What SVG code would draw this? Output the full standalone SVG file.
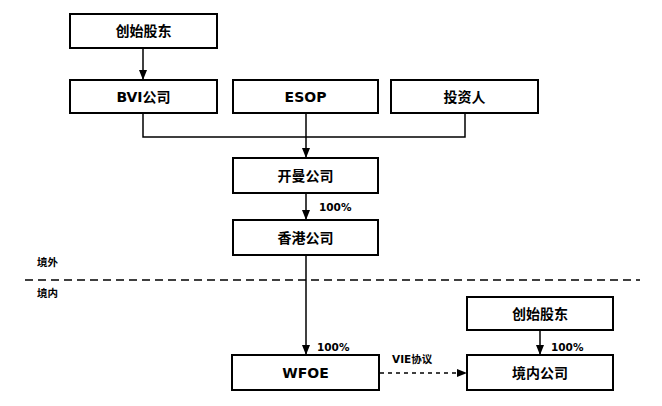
<svg xmlns="http://www.w3.org/2000/svg" width="662" height="406" viewBox="0 0 662 406">
<defs>
<marker id="ah" markerWidth="10" markerHeight="12" refX="10" refY="5" orient="auto" markerUnits="userSpaceOnUse">
<path d="M0,1 L10,5 L0,9 Z" fill="#000"/>
</marker>
<style>
.box{fill:#fff;stroke:#000;stroke-width:2}
.t{font-family:"DejaVu Sans","Noto Sans CJK SC",sans-serif;font-weight:bold;font-size:14px;text-anchor:middle;dominant-baseline:central;fill:#000}
.s{font-family:"DejaVu Sans","Noto Sans CJK SC",sans-serif;font-weight:bold;font-size:10.5px;fill:#000;dominant-baseline:central}
.c{fill:none;stroke:#000;stroke-width:1.5}
</style>
</defs>
<rect width="662" height="406" fill="#fff"/>
<g id="connectors">
<line class="c" x1="143" y1="48" x2="143" y2="80" marker-end="url(#ah)"/>
<polyline class="c" points="143,113 143,137 465,137 465,113"/>
<line class="c" x1="306" y1="113" x2="306" y2="158" marker-end="url(#ah)"/>
<line class="c" x1="306" y1="193" x2="306" y2="220" marker-end="url(#ah)"/>
<line class="c" x1="306" y1="255" x2="306" y2="355" marker-end="url(#ah)"/>
<line class="c" x1="540" y1="330" x2="540" y2="355" marker-end="url(#ah)"/>
<line class="c" x1="380" y1="373" x2="467" y2="373" stroke-dasharray="4,4" marker-end="url(#ah)"/>
<line x1="25" y1="280" x2="640" y2="280" stroke="#000" stroke-width="1.5" stroke-dasharray="8,5"/>
</g>
<g id="n1"><rect class="box" x="70" y="14" width="147" height="34"/><text class="t" x="143.5" y="31">创始股东</text></g>
<g id="n2"><rect class="box" x="70" y="80" width="147" height="33"/><text class="t" x="143.5" y="96.5">BVI公司</text></g>
<g id="n3"><rect class="box" x="233" y="80" width="145" height="33"/><text class="t" x="305.5" y="96.5">ESOP</text></g>
<g id="n4"><rect class="box" x="391" y="80" width="147" height="33"/><text class="t" x="464.5" y="96.5">投资人</text></g>
<g id="n5"><rect class="box" x="233" y="158" width="145" height="35"/><text class="t" x="305.5" y="175.5">开曼公司</text></g>
<g id="n6"><rect class="box" x="233" y="220" width="145" height="35"/><text class="t" x="305.5" y="237.5">香港公司</text></g>
<g id="n7"><rect class="box" x="232" y="355" width="147" height="35"/><text class="t" x="305.5" y="372.5">WFOE</text></g>
<g id="n8"><rect class="box" x="467" y="297" width="146" height="33"/><text class="t" x="540" y="313.5">创始股东</text></g>
<g id="n9"><rect class="box" x="467" y="355" width="146" height="35"/><text class="t" x="540" y="372.5">境内公司</text></g>
<g id="labels">
<text class="s" x="319" y="207">100%</text>
<text class="s" x="317" y="347">100%</text>
<text class="s" x="551" y="347">100%</text>
<text class="s" x="392" y="359">VIE协议</text>
<text class="s" x="37" y="262">境外</text>
<text class="s" x="37" y="293">境内</text>
</g>
</svg>
